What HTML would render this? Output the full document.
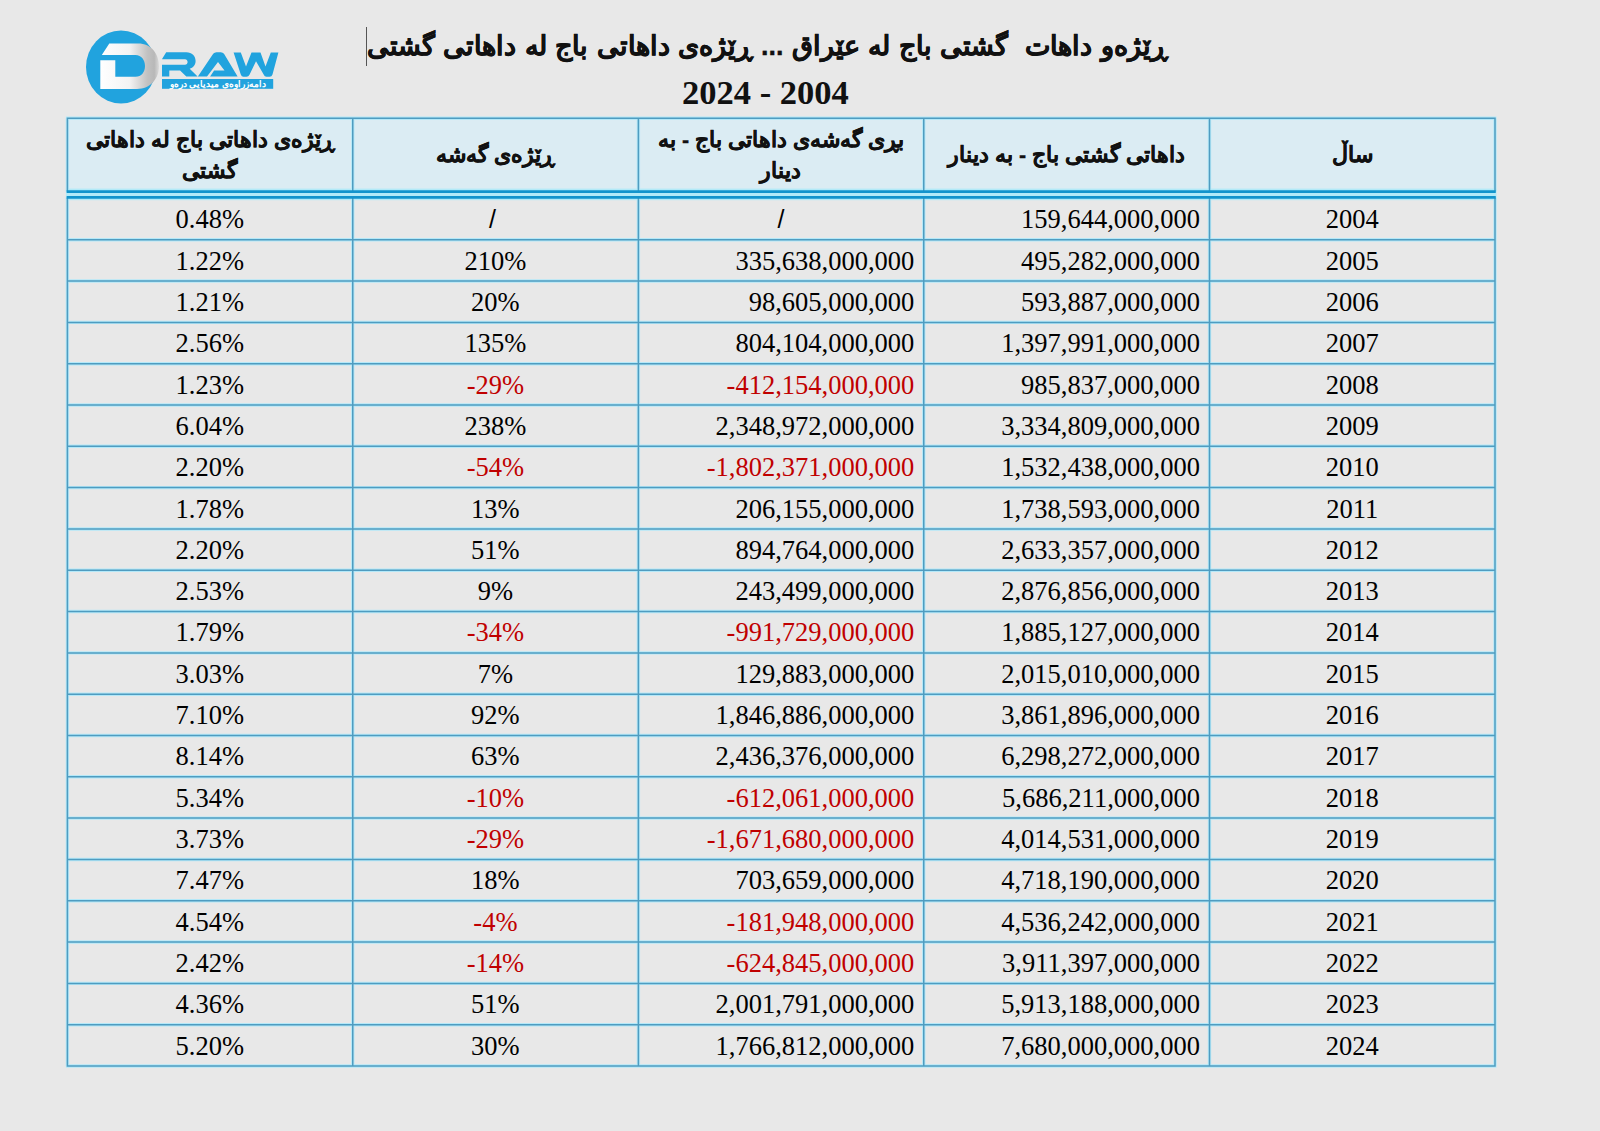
<!DOCTYPE html>
<html lang="ckb"><head><meta charset="utf-8"><title>Tax revenue table</title>
<style>
html,body{margin:0;padding:0}
body{width:1600px;height:1131px;background:#e8e8e8;position:relative;overflow:hidden;font-family:"Liberation Serif",serif;color:#000}
.hb{position:absolute;background:#dbecf3}
.t{position:absolute;font-size:26.5px;line-height:30px;white-space:nowrap;height:30px}
.r{text-align:right}
.c{text-align:center}
.neg{color:#c00000}
.sl{font-family:"Liberation Sans",sans-serif;font-size:25px}
.h{position:absolute;font-family:"Liberation Sans",sans-serif;font-weight:bold;font-size:21.5px;line-height:31px;text-align:center;direction:rtl;color:#111;-webkit-text-stroke:0.3px #111}
.title{position:absolute;font-family:"Liberation Sans",sans-serif;font-weight:bold;font-size:27px;direction:rtl;white-space:nowrap;color:#111;word-spacing:1px;-webkit-text-stroke:0.35px #111}
.yr{position:absolute;font-family:"Liberation Serif",serif;font-weight:bold;font-size:34.5px;white-space:nowrap;color:#111}
</style></head><body>

<div class="hb" style="left:67.0px;top:118.0px;width:1428.0px;height:79.3px"></div>
<svg style="position:absolute;left:0;top:0" width="300" height="120" viewBox="0 0 300 120">
<defs><linearGradient id="dg" x1="100" y1="0" x2="159" y2="0" gradientUnits="userSpaceOnUse">
<stop offset="0" stop-color="#ffffff"/><stop offset="0.5" stop-color="#f3f3f3"/><stop offset="0.8" stop-color="#c2c2c2"/><stop offset="0.92" stop-color="#b8b8b8"/><stop offset="1" stop-color="#dadada"/></linearGradient></defs>
<ellipse cx="121" cy="67" rx="35" ry="36.5" fill="#21a3de"/>
<path d="M101.8 55 L109.3 43.4 L138 43.4 C151.5 43.4 159 54 159 66.2 C159 78.5 150.5 88.9 137 88.9 L100.3 88.9 L100.3 60.3 L115.3 60.3 L115.3 76.8 L135.5 76.8 C141.5 76.8 145 72 145 66 C145 60 141.5 55 135.5 55 Z" fill="url(#dg)"/>
<g fill="#21a3de">
<path d="M162.2 58.8 L166.2 52.2 L186.3 52.2 C192 52.2 195.6 56 195.6 61 C195.6 65 193 68 189.7 68.7 L197.6 76.6 L186.3 76.6 L180.1 70.6 L169.3 70.6 L169.3 76.6 L162 76.6 L162 64.7 L185 64.7 C186.5 64.7 187.6 63.5 187.6 62 C187.6 60.5 186.5 59.3 185 59.3 L162.2 59.3 Z"/>
<path d="M197.9 76.6 L213.2 53.8 Q214.5 52.2 216.5 52.2 L220.8 52.2 Q222.8 52.2 224 53.8 L237.6 76.6 L210.1 76.6 L214.1 70.6 L224.5 70.6 L218 61.9 L207 76.6 Z"/>
<path d="M233.6 52.6 L240.8 52.6 L246 66.4 L251.5 52.6 L260.5 52.6 L265.5 66.4 L270.8 52.6 L278.4 52.6 L272.5 74.5 Q271.8 76.8 269.5 76.8 L266.5 76.8 Q264.5 76.8 263.8 74.8 L256 61.2 L249.5 74.8 Q248.5 76.8 246.5 76.8 L243.5 76.8 Q241.5 76.8 240.8 74.5 Z"/>
<rect x="162" y="79" width="111.2" height="9.8"/>
</g>
<text x="266" y="87.3" font-family="Liberation Sans" font-weight="bold" font-size="9" fill="#ffffff" direction="rtl" text-anchor="start">دامەزراوەی میدیایی درەو</text>
</svg>
<div class="title" style="right:433px;top:29.5px">ڕێژەو داهات&nbsp; گشتی باج لە عێراق ... ڕێژەی داهاتی باج لە داهاتی گشتی</div>
<div style="position:absolute;left:366px;top:27px;width:1px;height:39px;background:#555"></div>
<div class="yr" style="left:682px;top:73px">2024 - 2004</div>
<div class="h" style="left:1209.4px;top:121.0px;width:285.6px;height:69.0px;display:flex;align-items:center;justify-content:center"><div style="white-space:nowrap">ساڵ</div></div>
<div class="h" style="left:923.8px;top:121.0px;width:285.6px;height:69.0px;display:flex;align-items:center;justify-content:center"><div style="white-space:nowrap">داهاتی گشتی باج - بە دینار</div></div>
<div class="h" style="left:638.2px;top:121.0px;width:285.6px;height:69.0px;display:flex;align-items:center;justify-content:center"><div style="white-space:nowrap">بڕی گەشەی داهاتی باج - بە<br>دینار</div></div>
<div class="h" style="left:352.6px;top:121.0px;width:285.6px;height:69.0px;display:flex;align-items:center;justify-content:center"><div style="white-space:nowrap">ڕێژەی گەشە</div></div>
<div class="h" style="left:67.0px;top:121.0px;width:285.6px;height:69.0px;display:flex;align-items:center;justify-content:center"><div style="white-space:nowrap">ڕێژەی داهاتی باج لە داهاتی<br>گشتی</div></div>
<div class="t c" style="left:1209.4px;width:285.6px;top:203.8px">2004</div>
<div class="t r" style="left:923.8px;width:276.1px;top:203.8px">159,644,000,000</div>
<div class="t c sl" style="left:638.2px;width:285.6px;top:203.8px">/</div>
<div class="t c sl" style="left:349.6px;width:285.6px;top:203.8px">/</div>
<div class="t c" style="left:67.0px;width:285.6px;top:203.8px">0.48%</div>
<div class="t c" style="left:1209.4px;width:285.6px;top:245.7px">2005</div>
<div class="t r" style="left:923.8px;width:276.1px;top:245.7px">495,282,000,000</div>
<div class="t r" style="left:638.2px;width:276.1px;top:245.7px">335,638,000,000</div>
<div class="t c" style="left:352.6px;width:285.6px;top:245.7px">210%</div>
<div class="t c" style="left:67.0px;width:285.6px;top:245.7px">1.22%</div>
<div class="t c" style="left:1209.4px;width:285.6px;top:287.0px">2006</div>
<div class="t r" style="left:923.8px;width:276.1px;top:287.0px">593,887,000,000</div>
<div class="t r" style="left:638.2px;width:276.1px;top:287.0px">98,605,000,000</div>
<div class="t c" style="left:352.6px;width:285.6px;top:287.0px">20%</div>
<div class="t c" style="left:67.0px;width:285.6px;top:287.0px">1.21%</div>
<div class="t c" style="left:1209.4px;width:285.6px;top:328.3px">2007</div>
<div class="t r" style="left:923.8px;width:276.1px;top:328.3px">1,397,991,000,000</div>
<div class="t r" style="left:638.2px;width:276.1px;top:328.3px">804,104,000,000</div>
<div class="t c" style="left:352.6px;width:285.6px;top:328.3px">135%</div>
<div class="t c" style="left:67.0px;width:285.6px;top:328.3px">2.56%</div>
<div class="t c" style="left:1209.4px;width:285.6px;top:369.6px">2008</div>
<div class="t r" style="left:923.8px;width:276.1px;top:369.6px">985,837,000,000</div>
<div class="t r neg" style="left:638.2px;width:276.1px;top:369.6px">-412,154,000,000</div>
<div class="t c neg" style="left:352.6px;width:285.6px;top:369.6px">-29%</div>
<div class="t c" style="left:67.0px;width:285.6px;top:369.6px">1.23%</div>
<div class="t c" style="left:1209.4px;width:285.6px;top:410.9px">2009</div>
<div class="t r" style="left:923.8px;width:276.1px;top:410.9px">3,334,809,000,000</div>
<div class="t r" style="left:638.2px;width:276.1px;top:410.9px">2,348,972,000,000</div>
<div class="t c" style="left:352.6px;width:285.6px;top:410.9px">238%</div>
<div class="t c" style="left:67.0px;width:285.6px;top:410.9px">6.04%</div>
<div class="t c" style="left:1209.4px;width:285.6px;top:452.2px">2010</div>
<div class="t r" style="left:923.8px;width:276.1px;top:452.2px">1,532,438,000,000</div>
<div class="t r neg" style="left:638.2px;width:276.1px;top:452.2px">-1,802,371,000,000</div>
<div class="t c neg" style="left:352.6px;width:285.6px;top:452.2px">-54%</div>
<div class="t c" style="left:67.0px;width:285.6px;top:452.2px">2.20%</div>
<div class="t c" style="left:1209.4px;width:285.6px;top:493.5px">2011</div>
<div class="t r" style="left:923.8px;width:276.1px;top:493.5px">1,738,593,000,000</div>
<div class="t r" style="left:638.2px;width:276.1px;top:493.5px">206,155,000,000</div>
<div class="t c" style="left:352.6px;width:285.6px;top:493.5px">13%</div>
<div class="t c" style="left:67.0px;width:285.6px;top:493.5px">1.78%</div>
<div class="t c" style="left:1209.4px;width:285.6px;top:534.8px">2012</div>
<div class="t r" style="left:923.8px;width:276.1px;top:534.8px">2,633,357,000,000</div>
<div class="t r" style="left:638.2px;width:276.1px;top:534.8px">894,764,000,000</div>
<div class="t c" style="left:352.6px;width:285.6px;top:534.8px">51%</div>
<div class="t c" style="left:67.0px;width:285.6px;top:534.8px">2.20%</div>
<div class="t c" style="left:1209.4px;width:285.6px;top:576.1px">2013</div>
<div class="t r" style="left:923.8px;width:276.1px;top:576.1px">2,876,856,000,000</div>
<div class="t r" style="left:638.2px;width:276.1px;top:576.1px">243,499,000,000</div>
<div class="t c" style="left:352.6px;width:285.6px;top:576.1px">9%</div>
<div class="t c" style="left:67.0px;width:285.6px;top:576.1px">2.53%</div>
<div class="t c" style="left:1209.4px;width:285.6px;top:617.4px">2014</div>
<div class="t r" style="left:923.8px;width:276.1px;top:617.4px">1,885,127,000,000</div>
<div class="t r neg" style="left:638.2px;width:276.1px;top:617.4px">-991,729,000,000</div>
<div class="t c neg" style="left:352.6px;width:285.6px;top:617.4px">-34%</div>
<div class="t c" style="left:67.0px;width:285.6px;top:617.4px">1.79%</div>
<div class="t c" style="left:1209.4px;width:285.6px;top:658.8px">2015</div>
<div class="t r" style="left:923.8px;width:276.1px;top:658.8px">2,015,010,000,000</div>
<div class="t r" style="left:638.2px;width:276.1px;top:658.8px">129,883,000,000</div>
<div class="t c" style="left:352.6px;width:285.6px;top:658.8px">7%</div>
<div class="t c" style="left:67.0px;width:285.6px;top:658.8px">3.03%</div>
<div class="t c" style="left:1209.4px;width:285.6px;top:700.1px">2016</div>
<div class="t r" style="left:923.8px;width:276.1px;top:700.1px">3,861,896,000,000</div>
<div class="t r" style="left:638.2px;width:276.1px;top:700.1px">1,846,886,000,000</div>
<div class="t c" style="left:352.6px;width:285.6px;top:700.1px">92%</div>
<div class="t c" style="left:67.0px;width:285.6px;top:700.1px">7.10%</div>
<div class="t c" style="left:1209.4px;width:285.6px;top:741.4px">2017</div>
<div class="t r" style="left:923.8px;width:276.1px;top:741.4px">6,298,272,000,000</div>
<div class="t r" style="left:638.2px;width:276.1px;top:741.4px">2,436,376,000,000</div>
<div class="t c" style="left:352.6px;width:285.6px;top:741.4px">63%</div>
<div class="t c" style="left:67.0px;width:285.6px;top:741.4px">8.14%</div>
<div class="t c" style="left:1209.4px;width:285.6px;top:782.7px">2018</div>
<div class="t r" style="left:923.8px;width:276.1px;top:782.7px">5,686,211,000,000</div>
<div class="t r neg" style="left:638.2px;width:276.1px;top:782.7px">-612,061,000,000</div>
<div class="t c neg" style="left:352.6px;width:285.6px;top:782.7px">-10%</div>
<div class="t c" style="left:67.0px;width:285.6px;top:782.7px">5.34%</div>
<div class="t c" style="left:1209.4px;width:285.6px;top:824.0px">2019</div>
<div class="t r" style="left:923.8px;width:276.1px;top:824.0px">4,014,531,000,000</div>
<div class="t r neg" style="left:638.2px;width:276.1px;top:824.0px">-1,671,680,000,000</div>
<div class="t c neg" style="left:352.6px;width:285.6px;top:824.0px">-29%</div>
<div class="t c" style="left:67.0px;width:285.6px;top:824.0px">3.73%</div>
<div class="t c" style="left:1209.4px;width:285.6px;top:865.3px">2020</div>
<div class="t r" style="left:923.8px;width:276.1px;top:865.3px">4,718,190,000,000</div>
<div class="t r" style="left:638.2px;width:276.1px;top:865.3px">703,659,000,000</div>
<div class="t c" style="left:352.6px;width:285.6px;top:865.3px">18%</div>
<div class="t c" style="left:67.0px;width:285.6px;top:865.3px">7.47%</div>
<div class="t c" style="left:1209.4px;width:285.6px;top:906.6px">2021</div>
<div class="t r" style="left:923.8px;width:276.1px;top:906.6px">4,536,242,000,000</div>
<div class="t r neg" style="left:638.2px;width:276.1px;top:906.6px">-181,948,000,000</div>
<div class="t c neg" style="left:352.6px;width:285.6px;top:906.6px">-4%</div>
<div class="t c" style="left:67.0px;width:285.6px;top:906.6px">4.54%</div>
<div class="t c" style="left:1209.4px;width:285.6px;top:947.9px">2022</div>
<div class="t r" style="left:923.8px;width:276.1px;top:947.9px">3,911,397,000,000</div>
<div class="t r neg" style="left:638.2px;width:276.1px;top:947.9px">-624,845,000,000</div>
<div class="t c neg" style="left:352.6px;width:285.6px;top:947.9px">-14%</div>
<div class="t c" style="left:67.0px;width:285.6px;top:947.9px">2.42%</div>
<div class="t c" style="left:1209.4px;width:285.6px;top:989.2px">2023</div>
<div class="t r" style="left:923.8px;width:276.1px;top:989.2px">5,913,188,000,000</div>
<div class="t r" style="left:638.2px;width:276.1px;top:989.2px">2,001,791,000,000</div>
<div class="t c" style="left:352.6px;width:285.6px;top:989.2px">51%</div>
<div class="t c" style="left:67.0px;width:285.6px;top:989.2px">4.36%</div>
<div class="t c" style="left:1209.4px;width:285.6px;top:1030.5px">2024</div>
<div class="t r" style="left:923.8px;width:276.1px;top:1030.5px">7,680,000,000,000</div>
<div class="t r" style="left:638.2px;width:276.1px;top:1030.5px">1,766,812,000,000</div>
<div class="t c" style="left:352.6px;width:285.6px;top:1030.5px">30%</div>
<div class="t c" style="left:67.0px;width:285.6px;top:1030.5px">5.20%</div>
<svg style="position:absolute;left:0;top:0" width="1600" height="1131" viewBox="0 0 1600 1131">
<path d="M67.40 118.30V191.60M67.40 197.40V1066.00M352.75 118.30V191.60M352.75 197.40V1066.00M638.40 118.30V191.60M638.40 197.40V1066.00M923.75 118.30V191.60M923.75 197.40V1066.00M1209.50 118.30V191.60M1209.50 197.40V1066.00M1495.00 118.30V191.60M1495.00 197.40V1066.00M65.90 118.30H1496.50M65.90 239.75H1496.50M65.90 281.06H1496.50M65.90 322.38H1496.50M65.90 363.69H1496.50M65.90 405.00H1496.50M65.90 446.31H1496.50M65.90 487.62H1496.50M65.90 528.94H1496.50M65.90 570.25H1496.50M65.90 611.56H1496.50M65.90 652.88H1496.50M65.90 694.19H1496.50M65.90 735.50H1496.50M65.90 776.81H1496.50M65.90 818.12H1496.50M65.90 859.44H1496.50M65.90 900.75H1496.50M65.90 942.06H1496.50M65.90 983.38H1496.50M65.90 1024.69H1496.50M65.90 1066.00H1496.50" stroke="#b4e8f8" stroke-width="3.4" fill="none"/>
<rect x="65.90" y="188.6" width="1430.60" height="11.6" fill="#b2eaf8"/>
<path d="M67.40 117.55V191.60M67.40 197.40V1066.75M352.75 117.55V191.60M352.75 197.40V1066.75M638.40 117.55V191.60M638.40 197.40V1066.75M923.75 117.55V191.60M923.75 197.40V1066.75M1209.50 117.55V191.60M1209.50 197.40V1066.75M1495.00 117.55V191.60M1495.00 197.40V1066.75M66.65 118.30H1495.75M66.65 239.75H1495.75M66.65 281.06H1495.75M66.65 322.38H1495.75M66.65 363.69H1495.75M66.65 405.00H1495.75M66.65 446.31H1495.75M66.65 487.62H1495.75M66.65 528.94H1495.75M66.65 570.25H1495.75M66.65 611.56H1495.75M66.65 652.88H1495.75M66.65 694.19H1495.75M66.65 735.50H1495.75M66.65 776.81H1495.75M66.65 818.12H1495.75M66.65 859.44H1495.75M66.65 900.75H1495.75M66.65 942.06H1495.75M66.65 983.38H1495.75M66.65 1024.69H1495.75M66.65 1066.00H1495.75" stroke="#4f9cc0" stroke-width="1.5" fill="none"/>
<path d="M66.65 191.60H1495.75M66.65 197.40H1495.75" stroke="#1294cc" stroke-width="2.8" fill="none"/>
</svg>
</body></html>
